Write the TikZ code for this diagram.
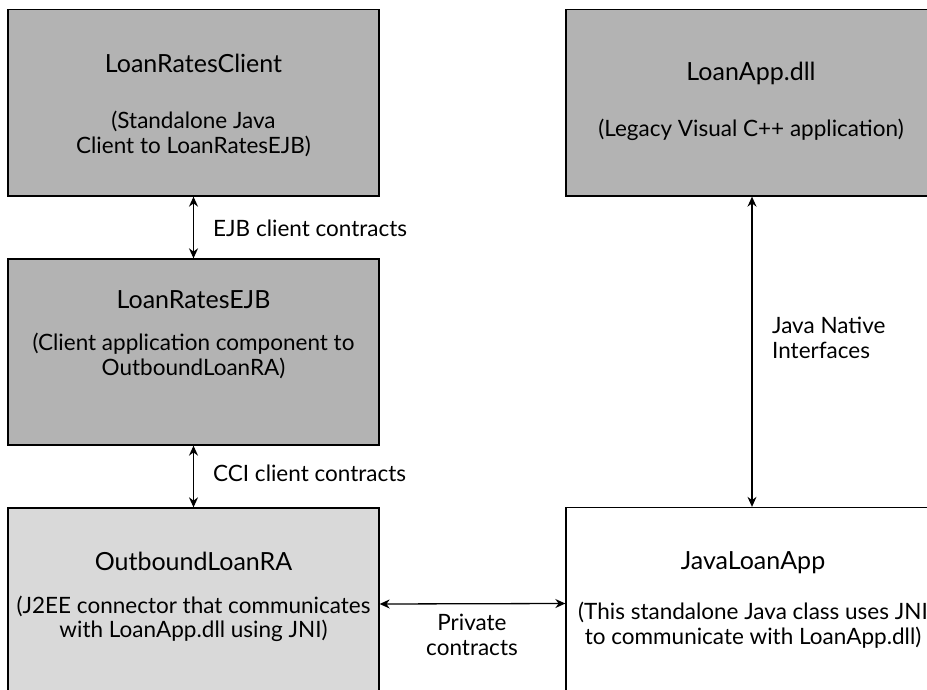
\documentclass[tikz,border=0pt]{standalone}
\usepackage{fontspec}
\setmainfont{Lato}
\usetikzlibrary{arrows.meta,calc}
\definecolor{darkbox}{HTML}{B3B3B3}
\definecolor{lightbox}{HTML}{D9D9D9}
\begin{document}
\begin{tikzpicture}[x=1pt,y=-1pt,
  box/.style={draw=black,line width=1.3pt,rectangle,inner sep=0pt},
  ttl/.style={font=\fontsize{25}{27}\selectfont,align=center,inner sep=0pt},
  txt/.style={font=\fontsize{22.5}{24.5}\selectfont,align=center,inner sep=0pt},
  lbl/.style={font=\fontsize{22.5}{24.5}\selectfont,align=left,inner sep=0pt},
  conn/.style={line width=1.3pt,{Stealth[length=10pt,width=9pt]}-{Stealth[length=10pt,width=9pt]}}]
\useasboundingbox (0,0) rectangle (927,690);
\fill[white] (0,0) rectangle (927,690);
% boxes
\node[box,fill=darkbox,minimum width=371pt,minimum height=186.5pt] (client) at (193.5,102.75) {};
\node[box,fill=darkbox,minimum width=371pt,minimum height=186pt] (ejb) at (193.5,352) {};
\node[box,fill=lightbox,minimum width=371pt,minimum height=192pt] (ora) at (193.5,604) {};
\node[box,fill=darkbox,minimum width=374pt,minimum height=186.5pt] (dll) at (753,102.75) {};
\node[box,fill=white,minimum width=374pt,minimum height=192pt] (jla) at (753,603.5) {};
% texts
\node[ttl] (t1) at (193.5,63) {LoanRatesClient};
\node[txt] (t1s) at (193.5,134) {(Standalone Java\\Client to LoanRatesEJB)};
\node[ttl] (t2) at (193.5,300) {LoanRatesEJB};
\node[txt] (t2s) at (193.5,356) {(Client application component to\\OutboundLoanRA)};
\node[ttl] (t3) at (193.5,561) {OutboundLoanRA};
\node[txt] (t3s) at (193.5,619) {(J2EE connector that communicates\\with LoanApp.dll using JNI)};
\node[ttl] (t4) at (751,73) {LoanApp.dll};
\node[txt] (t4s) at (751,130) {(Legacy Visual C++ application)};
\node[ttl] (t5) at (753,563) {JavaLoanApp};
\node[txt] (t5s) at (753,625) {(This standalone Java class uses JNI\\to communicate with LoanApp.dll)};
% connectors
\draw[conn] (client.south) -- (ejb.north);
\draw[conn] (ejb.south) -- (ora.north);
\draw[conn] (ora.east) -- (jla.west);
\draw[conn] ([xshift=-1pt]dll.south) -- ([xshift=-1pt]jla.north);
% labels
\node[lbl,anchor=west] (l1) at (213,228) {EJB client contracts};
\node[lbl,anchor=west] (l2) at (213,473) {CCI client contracts};
\node[lbl,anchor=west] (l3) at (772,338) {Java Native\\Interfaces};
\node[txt] (l4) at (472,635) {Private\\contracts};
\end{tikzpicture}
\end{document}
